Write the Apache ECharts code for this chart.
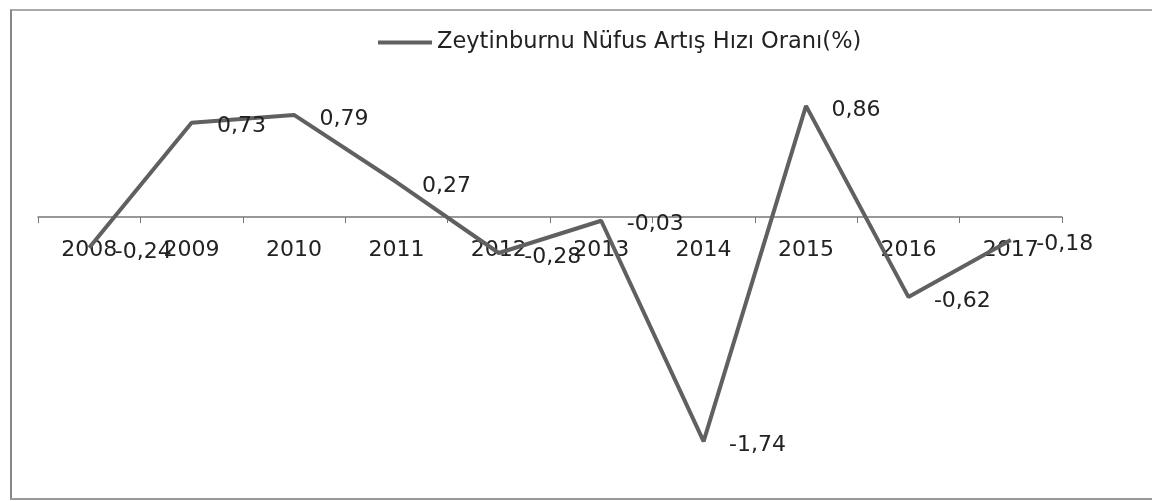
<!DOCTYPE html>
<html>
<head>
<meta charset="utf-8">
<script src="https://cdn.jsdelivr.net/npm/echarts@6/dist/echarts.min.js"></script>
<style>
  html, body { margin: 0; padding: 0; background: #fff; }
  #chart { width: 1152px; height: 501px; }
</style>
</head>
<body>
<div id="chart"></div>
<script>
// Zeytinburnu population growth rate by year (%)
const years = ['2008', '2009', '2010', '2011', '2012', '2013', '2014', '2015', '2016', '2017'];
const growthRate = [-0.24, 0.73, 0.79, 0.27, -0.28, -0.03, -1.74, 0.86, -0.62, -0.18];
const seriesName = 'Zeytinburnu Nüfus Artış Hızı Oranı(%)';

const fmt = v => String(v).replace('.', ',');
const font = '"DejaVu Sans", sans-serif';
const lineColor = '#606060';

const chart = echarts.init(document.getElementById('chart'), null, { renderer: 'canvas' });
chart.setOption({
  animation: false,
  backgroundColor: '#fff',
  legend: {
    data: [seriesName],
    top: 26,
    left: 373,
    itemWidth: 54,
    itemHeight: 4,
    itemGap: 3,
    icon: 'rect',
    itemStyle: { color: lineColor, opacity: 1 },
    textStyle: { fontFamily: font, fontSize: 22.5, color: '#222' }
  },
  grid: { left: 38, right: 90, top: 62, height: 413, outerBoundsMode: 'none' },
  xAxis: {
    type: 'category',
    data: years,
    boundaryGap: true,
    offset: -258,
    axisLine: { onZero: false, lineStyle: { color: '#777', width: 1.5 } },
    axisTick: { show: true, inside: false, length: 6, lineStyle: { color: '#777' } },
    axisLabel: { fontFamily: font, fontSize: 22, color: '#222', margin: 22, interval: 0 }
  },
  yAxis: {
    type: 'value',
    min: -2,
    max: 1.2,
    show: false,
    splitLine: { show: false }
  },
  series: [{
    name: seriesName,
    type: 'line',
    data: growthRate,
    symbol: 'circle',
    symbolSize: 1,
    showSymbol: true,
    lineStyle: { color: lineColor, width: 4 },
    itemStyle: { color: 'rgba(0,0,0,0)' },
    label: {
      show: true,
      position: 'right',
      distance: 25,
      offset: [0, 4],
      fontFamily: font,
      fontSize: 22,
      color: '#222',
      formatter: p => fmt(p.value)
    }
  }],
  graphic: [
    { type: 'line', shape: { x1: 10, y1: 10, x2: 1152, y2: 10 }, style: { stroke: '#aaa', lineWidth: 2 } },
    { type: 'line', shape: { x1: 11, y1: 10, x2: 11, y2: 499 }, style: { stroke: '#888', lineWidth: 2 } },
    { type: 'line', shape: { x1: 10, y1: 499, x2: 1152, y2: 499 }, style: { stroke: '#999', lineWidth: 2 } }
  ]
});
</script>
</body>
</html>
